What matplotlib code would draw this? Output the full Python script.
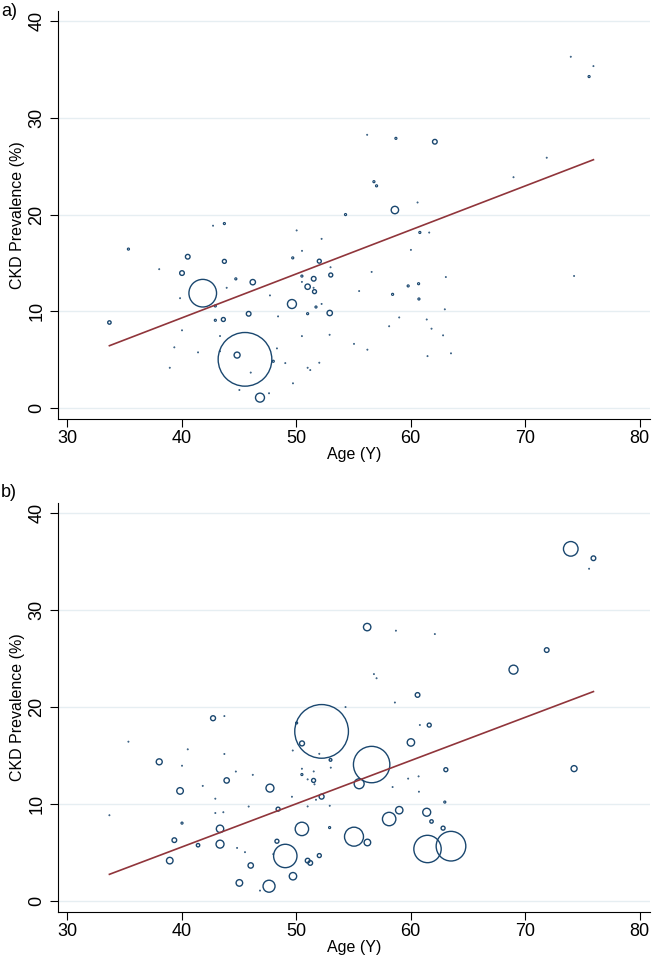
import numpy as np
import matplotlib
matplotlib.use("Agg")
import matplotlib.pyplot as plt

plt.rcParams["font.family"] = ["Liberation Sans", "DejaVu Sans"]

# mean age of each study (years) and CKD prevalence (%)
age = [33.69, 35.35, 38.04, 38.96, 39.36, 39.86, 40.03, 40.03, 40.53, 41.43,
       41.84, 42.74, 42.94, 42.94, 43.64, 43.73, 43.73, 43.93, 43.35, 43.35,
       44.73, 44.84, 45.04, 45.53, 45.85, 46.03, 46.21, 46.84, 47.63, 47.71,
       48.00, 48.32, 48.42, 49.05, 49.63, 49.70, 49.72, 50.04, 50.51, 50.50,
       50.50, 50.50, 51.00, 51.00, 51.00, 51.23, 51.52, 51.53, 51.60, 51.73,
       52.02, 52.02, 52.22, 52.22, 52.93, 52.92, 53.00, 53.02, 54.31, 55.05,
       55.50, 56.20, 56.22, 56.59, 56.79, 57.02, 58.12, 58.42, 58.62, 58.71,
       59.00, 59.78, 60.02, 60.60, 60.69, 60.72, 60.80, 61.40, 61.47, 61.62,
       61.82, 62.11, 62.83, 62.98, 63.07, 63.52, 68.98, 71.88, 73.98, 74.27,
       75.58, 75.96]
prevalence = [8.84, 16.43, 14.35, 4.16, 6.27, 11.35, 13.95, 8.03, 15.64, 5.75,
              11.87, 18.85, 10.55, 9.07, 9.15, 19.07, 15.16, 12.43, 7.44, 5.86,
              13.35, 5.47, 1.86, 5.03, 9.74, 3.66, 13.01, 1.07, 1.52, 11.64,
              4.83, 6.16, 9.47, 4.64, 10.75, 15.52, 2.55, 18.36, 16.25, 13.64,
              13.04, 7.43, 12.54, 9.75, 4.16, 3.92, 12.43, 13.36, 12.03, 10.44,
              15.18, 4.68, 17.49, 10.76, 9.82, 7.57, 14.55, 13.75, 20.00, 6.63,
              12.09, 28.25, 6.03, 14.07, 23.40, 22.97, 8.45, 11.75, 20.47, 27.88,
              9.36, 12.62, 16.35, 21.25, 12.85, 11.27, 18.15, 9.15, 5.36, 18.14,
              8.20, 27.53, 7.51, 10.20, 13.54, 5.65, 23.86, 25.88, 36.32, 13.65,
              34.27, 35.35]

# study weights (%) used for bubble sizes
weight_a = [0.08, 0.03, 0.01, 0.01, 0.01, 0.01, 0.15, 0.01, 0.15, 0.01,
            5.3, 0.01, 0.03, 0.03, 0.11, 0.03, 0.11, 0.01, 0.01, 0.01,
            0.03, 0.25, 0.01, 20.0, 0.15, 0.01, 0.20, 0.56, 0.01, 0.01,
            0.03, 0.01, 0.01, 0.01, 0.56, 0.03, 0.01, 0.01, 0.01, 0.03,
            0.01, 0.01, 0.20, 0.03, 0.01, 0.01, 0.01, 0.15, 0.11, 0.03,
            0.11, 0.01, 0.01, 0.01, 0.20, 0.01, 0.01, 0.11, 0.03, 0.01,
            0.01, 0.01, 0.01, 0.01, 0.03, 0.03, 0.01, 0.03, 0.38, 0.03,
            0.01, 0.03, 0.01, 0.01, 0.03, 0.03, 0.03, 0.01, 0.01, 0.01,
            0.01, 0.15, 0.01, 0.01, 0.01, 0.01, 0.01, 0.01, 0.01, 0.01,
            0.03, 0.01]
weight_b = [0.01, 0.01, 0.25, 0.30, 0.15, 0.30, 0.01, 0.03, 0.01, 0.08,
            0.01, 0.17, 0.01, 0.01, 0.01, 0.01, 0.01, 0.20, 0.38, 0.44,
            0.01, 0.01, 0.30, 0.01, 0.01, 0.20, 0.01, 0.01, 1.0, 0.44,
            0.01, 0.11, 0.11, 3.8, 0.01, 0.01, 0.38, 0.03, 0.17, 0.01,
            0.03, 1.25, 0.01, 0.01, 0.15, 0.15, 0.11, 0.01, 0.01, 0.01,
            0.01, 0.11, 20.0, 0.17, 0.01, 0.03, 0.05, 0.01, 0.01, 2.5,
            0.69, 0.38, 0.30, 9.2, 0.01, 0.01, 1.25, 0.01, 0.01, 0.01,
            0.38, 0.01, 0.38, 0.15, 0.01, 0.01, 0.01, 0.44, 5.2, 0.11,
            0.08, 0.01, 0.11, 0.03, 0.11, 6.1, 0.56, 0.15, 1.48, 0.25,
            0.01, 0.15]

# weighted meta-regression lines (intercept, slope)
fit_a = (-8.89, 0.455)
fit_b = (-12.28, 0.446)

navy = "#1a476f"
maroon = "#90353b"

fig = plt.figure(figsize=(6.53, 9.6), dpi=100)
W, H = 653, 960


def panel(rect_px, weights, fit, tag, tag_y):
    left, top, right, bottom = rect_px
    ax = fig.add_axes([left / W, 1 - bottom / H, (right - left) / W, (bottom - top) / H])
    w = np.array(weights)
    r_px = 6 * np.sqrt(w)
    sizes = (2 * r_px * 0.72) ** 2
    lws = np.clip(r_px * 0.8, 0.5, 1.0)
    ax.scatter(age, prevalence, s=sizes, facecolors="none", edgecolors=navy,
               linewidths=lws, zorder=3)
    xs = np.array([min(age), max(age)])
    ax.plot(xs, fit[0] + fit[1] * xs, color=maroon, lw=1.2, zorder=4)

    ax.set_xlim(29.2, 80.9)
    ax.set_ylim(-1.14, 41.05)
    ax.set_xticks([30, 40, 50, 60, 70, 80])
    ax.set_yticks([0, 10, 20, 30, 40])
    ax.grid(axis="y", color="#e6eef2", lw=1.0, zorder=0)
    ax.set_axisbelow(True)
    for s in ["top", "right"]:
        ax.spines[s].set_visible(False)
    for s in ["left", "bottom"]:
        ax.spines[s].set_linewidth(0.8)
    ax.tick_params(axis="both", length=6, width=0.8, labelsize=13)
    ax.tick_params(axis="x", pad=2)
    ax.tick_params(axis="y", pad=3)
    for lab in ax.get_yticklabels():
        lab.set_rotation(90)
        lab.set_va("center")
    ax.set_xlabel("Age (Y)", fontsize=11.5)
    ax.set_ylabel("CKD Prevalence (%)", fontsize=11.5)
    ax.xaxis.set_label_coords(0.5, -0.068)
    ax.yaxis.set_label_coords(-0.056, 0.5)
    fig.text(1 / W, 1 - tag_y / H, tag, fontsize=13, ha="left", va="top")
    return ax


panel((58, 11, 650, 419), weight_a, fit_a, "a)", 3)
panel((58, 503, 650, 912), weight_b, fit_b, "b)", 484)

fig.savefig("out.png", dpi=100, facecolor="white")
